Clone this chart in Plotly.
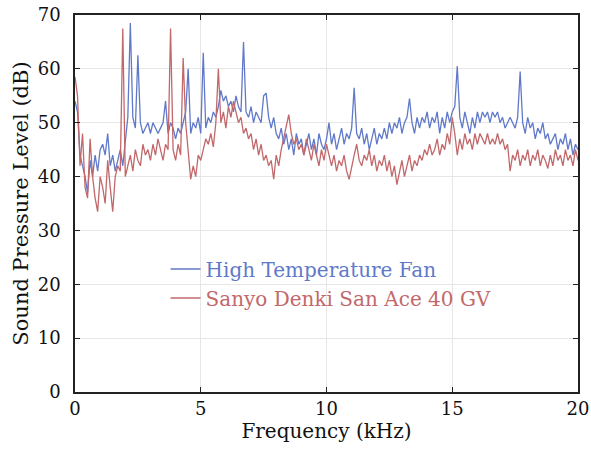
import plotly.graph_objects as go

freq_khz = [round(i * 0.1, 1) for i in range(201)]

high_temp_fan_db = [
    54, 52, 44, 42, 40, 37, 43, 40, 44, 41,
    45, 46, 44, 48, 42, 44, 41, 43, 45, 42,
    47, 51, 68.5, 51, 49, 62.5, 50, 48, 49, 50,
    48, 50, 49, 48, 49, 50, 54, 48, 50, 49,
    47, 49, 48, 50, 52, 60, 48, 50, 49, 51,
    48, 63, 49, 51, 50, 52, 51, 53, 56, 54,
    55, 53, 54, 52, 55, 53, 52, 65, 52, 51,
    53, 50, 52, 51, 50, 55, 55.5, 51, 49, 51,
    48, 47, 49, 46, 48, 45, 47, 44, 48, 46,
    47, 44, 46, 48, 45, 47, 44, 48, 46, 45,
    47, 50, 46, 48, 45, 47, 49, 46, 48, 47,
    49, 56.5, 48, 47, 49, 46, 48, 45, 47, 49,
    46, 48, 47, 49, 47, 50, 48, 50, 49, 51,
    48, 50, 51, 54.5, 50, 48, 51, 49, 51, 50,
    52, 49, 51, 50, 52, 48, 51, 49, 52, 50,
    52, 53, 60.5, 51, 49, 52, 50, 48, 51, 49,
    52, 50, 52, 51, 52, 50, 52, 51, 52, 50,
    51, 49, 50, 51, 50, 49, 51, 59.5, 50, 48,
    51, 49, 50, 47, 49, 48, 50, 47, 48, 46,
    47, 48, 45, 47, 46, 48, 45, 47, 44, 46,
    45,
]

sanyo_db = [
    58.5, 55, 42, 48, 38, 36, 47, 40, 36, 33.5,
    40, 38, 35, 43, 38, 33.5, 40, 42, 41, 67.5,
    40, 42, 44, 41, 45, 43, 42, 46, 44, 45,
    43, 46, 44, 47, 45, 43, 46, 45, 67.5, 45,
    43, 46, 44, 62, 50, 45, 39.5, 42, 40, 44,
    43, 45, 47, 46, 48, 45.5, 50, 60, 50, 52,
    49, 53, 51, 54, 52, 50, 51, 48, 49, 47,
    48, 45, 47, 44, 46, 43, 44, 42, 43, 39.5,
    44, 42, 45, 47, 49, 51.5, 48, 46, 47, 45,
    46, 44, 47, 45, 43, 46, 44, 42, 45, 43,
    46, 44, 42, 44, 41, 43, 42, 44, 41, 39.5,
    42, 44, 46, 43, 42, 44, 43, 45, 42, 44,
    41, 43, 42, 44, 41, 43, 40, 42, 38.5, 41,
    43, 40, 42, 44, 41, 43, 42, 44, 43, 45,
    44, 46, 44, 45, 47, 44, 46, 45, 48, 46,
    51, 48, 44, 47, 45, 48, 46, 47, 45, 48,
    46, 48, 47, 46, 48, 46, 47, 46, 48, 46,
    47, 45, 46, 41, 44, 43, 45, 42, 44, 43,
    45, 42, 44, 43, 45, 42, 44, 43, 41.5, 44,
    42, 45, 43, 44, 42, 45, 43, 44, 42, 45,
    43,
]

x_ticks = [0, 5, 10, 15, 20]
y_ticks = [0, 10, 20, 30, 40, 50, 60, 70]

BLUE = "#6079c9"
RED = "#c2686b"
FONT = "DejaVu Serif"

fig = go.Figure()
fig.add_trace(go.Scatter(
    x=freq_khz, y=high_temp_fan_db, mode="lines",
    line=dict(color=BLUE, width=1.3),
    name=f"<span style='color:{BLUE}'>High Temperature Fan</span>",
))
fig.add_trace(go.Scatter(
    x=freq_khz, y=sanyo_db, mode="lines",
    line=dict(color=RED, width=1.3),
    name=f"<span style='color:{RED}'>Sanyo Denki San Ace 40 GV</span>",
))

axis_common = dict(
    showline=True, linecolor="#222", linewidth=1.5, mirror="ticks",
    ticks="inside", ticklen=5, tickcolor="#222", tickwidth=1,
    showgrid=True, gridcolor="#e6e6e6", gridwidth=1,
    zeroline=False, automargin=False, ticklabeloverflow="allow",
    tickfont=dict(family=FONT, size=18, color="#111"),
)

fig.update_layout(
    width=591, height=451,
    margin=dict(l=75, r=13, t=15, b=59),
    paper_bgcolor="white", plot_bgcolor="white",
    font=dict(family=FONT, color="#111"),
    showlegend=True,
    legend=dict(
        x=0.18, y=0.378, xanchor="left", yanchor="top",
        bgcolor="rgba(0,0,0,0)", borderwidth=0,
        font=dict(family=FONT, size=20),
        tracegroupgap=0, itemwidth=30,
    ),
    xaxis=dict(range=[0, 20], tickvals=x_ticks, ticklabelstandoff=0,
               title=dict(text="Frequency (kHz)", font=dict(family=FONT, size=20), standoff=0),
               **axis_common),
    yaxis=dict(range=[0, 70], tickvals=y_ticks, ticklabelstandoff=9,
               title=dict(text="Sound Pressure Level (dB)", font=dict(family=FONT, size=21), standoff=3),
               **axis_common),
)

fig.write_html(
    "out.html",
    config={"displayModeBar": False},
    post_script="document.body.style.margin='0';document.body.style.overflow='hidden';",
)
